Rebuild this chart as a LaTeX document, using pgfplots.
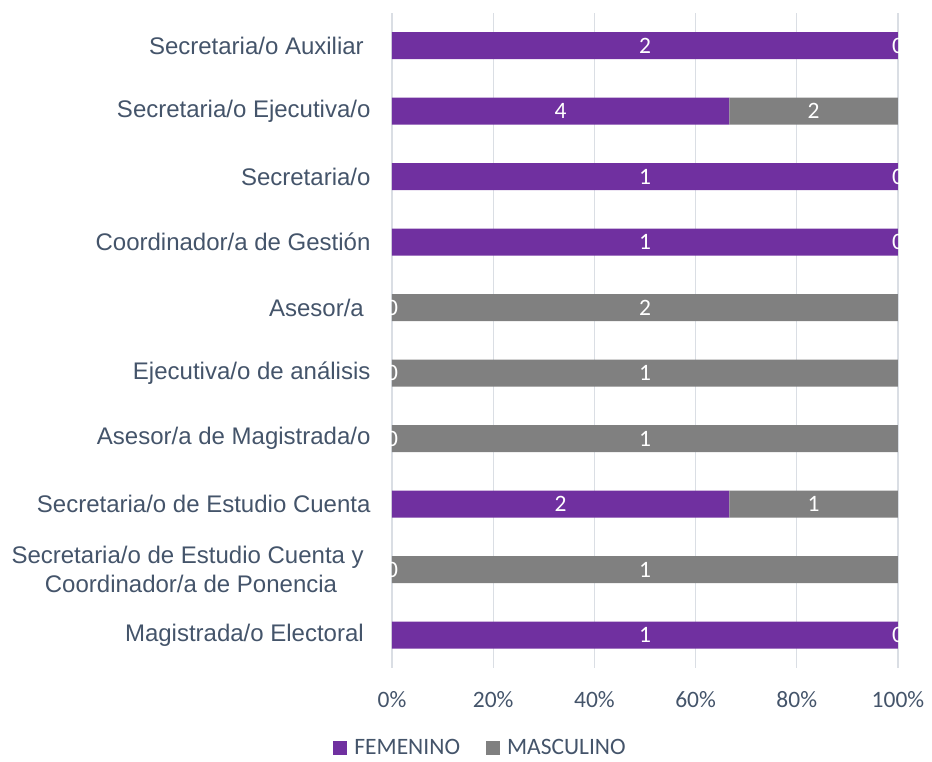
\documentclass[border=0pt]{standalone}
\usepackage{pgfplots}
\pgfplotsset{compat=1.18}
\usepackage{pgfplotstable}
\usepackage{fontspec}
\setmainfont{Liberation Sans}
\newfontfamily\calibri{Carlito}

\definecolor{fem}{HTML}{7030A0}
\definecolor{masc}{HTML}{808080}
\definecolor{txt}{HTML}{44546A}
\definecolor{gridc}{HTML}{DADEE4}

% y: position (bottom to top); fp, mp: percent; f, m: counts; fc, mc: label positions
\pgfplotstableread{
y fp    mp    f m fc    mc
0 100   0     1 0 50    100
1 0     100   0 1 0     50
2 66.67 33.33 2 1 33.33 83.33
3 0     100   0 1 0     50
4 0     100   0 1 0     50
5 0     100   0 2 0     50
6 100   0     1 0 50    100
7 100   0     1 0 50    100
8 66.67 33.33 4 2 33.33 83.33
9 100   0     2 0 50    100
}\datatable

\pgfplotsset{
    segm/.style={xbar stacked, bar width=27pt, draw=none,
        legend image code/.code={\fill[##1] (0pt,-7pt) rectangle (14pt,7pt); \path (19pt,0pt);}},
    vals/.style={forget plot, only marks, mark=none,
        nodes near coords, point meta=explicit symbolic,
        every node near coord/.append style={anchor=center, text=white,
            font=\calibri\fontsize{23.5}{28}\selectfont}},
}

\begin{document}
\begin{tikzpicture}
\begin{axis}[
    at={(0pt,0pt)}, anchor=south west,
    scale only axis,
    width=506pt, height=655pt,
    xmin=0, xmax=100,
    ymin=-0.5, ymax=9.5,
    enlargelimits=false,
    axis line style={draw=none},
    major tick length=0pt,
    xmajorgrids,
    grid style={gridc, line width=1.2pt},
    xtick={0,20,40,60,80,100},
    xticklabels={0\%,20\%,40\%,60\%,80\%,100\%},
    xticklabel style={font=\calibri\fontsize{23.5}{28}\selectfont, text=txt, yshift=-20pt},
    ytick={0,...,9},
    yticklabels={
        Magistrada/o Electoral~,
        {Secretaria/o de Estudio Cuenta y\rule{6.7pt}{0pt}\\Coordinador/a de Ponencia},
        Secretaria/o de Estudio Cuenta,
        Asesor/a de Magistrada/o,
        Ejecutiva/o de análisis,
        Asesor/a~,
        Coordinador/a de Gestión,
        Secretaria/o,
        Secretaria/o Ejecutiva/o,
        Secretaria/o Auxiliar~},
    yticklabel style={font=\fontsize{24}{29}\selectfont, text=txt, align=center, xshift=-18pt},
    legend style={
        at={(axis description cs:0.175,-0.1221)}, anchor=center,
        draw=none, fill=none,
        font=\calibri\fontsize{23.5}{28}\selectfont, text=txt,
        legend columns=2,
        /tikz/every even column/.append style={column sep=24pt},
    },
]
\addplot[segm, fill=fem] table[x=fp, y=y] {\datatable};
\addlegendentry{FEMENINO}
\addplot[segm, fill=masc] table[x=mp, y=y] {\datatable};
\addlegendentry{MASCULINO}

\addplot[vals] table[x=fc, y=y, meta=f] {\datatable};
\addplot[vals] table[x=mc, y=y, meta=m] {\datatable};
\end{axis}
\path (-392pt,-94pt) rectangle (540pt,668pt);
\end{tikzpicture}
\end{document}
